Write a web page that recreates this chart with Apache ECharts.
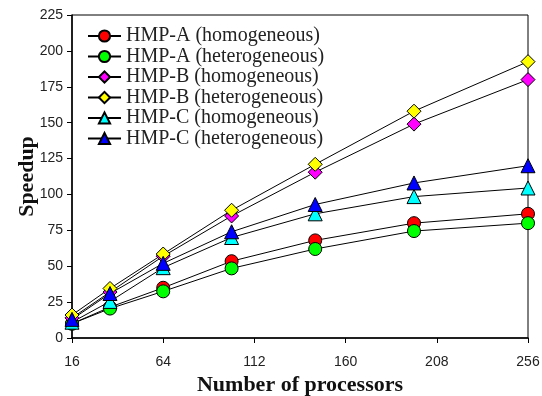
<!DOCTYPE html>
<html><head><meta charset="utf-8">
<script src="https://cdn.jsdelivr.net/npm/echarts@6/dist/echarts.min.js"></script>
<style>html,body{margin:0;padding:0;background:#fff}#c{width:542px;height:396px}</style>
</head><body><div id="c"></div>
<script>
const processors = [16, 36, 64, 100, 144, 196, 256];
const hmpAHom = [10, 21.5, 35, 53.5, 68, 80, 86.5];
const hmpAHet = [10, 20.5, 32.5, 48.5, 62, 74.5, 80];
const hmpBHom = [14, 32, 57, 85, 115.5, 149, 180];
const hmpBHet = [16, 34.5, 58.5, 89, 121, 158, 192.5];
const hmpCHom = [11, 25.5, 49, 70, 86.5, 98.5, 104.5];
const hmpCHet = [13, 31, 52, 74, 93, 108, 120];
const seriesNames = ['HMP-A (homogeneous)','HMP-A (heterogeneous)','HMP-B (homogeneous)','HMP-B (heterogeneous)','HMP-C (homogeneous)','HMP-C (heterogeneous)'];
const seriesData = [hmpAHom, hmpAHet, hmpBHom, hmpBHet, hmpCHom, hmpCHet];
const colors = ['#ff0000','#00ff00','#ff00ff','#ffff00','#00ffff','#0000ff'];
const symbols = ['circle','circle','diamond','diamond','triangle','triangle'];
const sizes = [13,13,14,14,14,14];

const chart = echarts.init(document.getElementById('c'));
chart.setOption({
  animation: false,
  grid: {left: 72, right: 14, top: 15, bottom: 58, show: true, borderColor: '#000', borderWidth: 1, containLabel: false, outerBoundsMode: 'none'},
  legend: {
    orient: 'vertical', left: 82, top: 21, itemWidth: 33, itemHeight: 14, itemGap: 0.5,
    textStyle: {fontFamily: 'Liberation Serif', fontSize: 20, color: '#222', lineHeight: 20},
    data: seriesNames
  },
  xAxis: {
    type: 'value', min: 16, max: 256, interval: 48,
    name: 'Number of processors', nameLocation: 'middle', nameGap: 35,
    nameTextStyle: {fontFamily: 'Liberation Serif', fontWeight: 'bold', fontSize: 22, color: '#111'},
    axisLine: {lineStyle: {color: '#000', width: 1.5}},
    axisTick: {length: 5, lineStyle: {color: '#000'}},
    axisLabel: {fontFamily: 'Liberation Sans', fontSize: 14, color: '#222', margin: 17},
    splitLine: {show: false}
  },
  yAxis: {
    type: 'value', min: 0, max: 225, interval: 25,
    name: 'Speedup', nameLocation: 'middle', nameGap: 34, nameMoveOverlap: false,
    nameTextStyle: {fontFamily: 'Liberation Serif', fontWeight: 'bold', fontSize: 22, color: '#111'},
    axisLine: {show: true, lineStyle: {color: '#000', width: 1.5}},
    axisTick: {show: true, length: 5, lineStyle: {color: '#000'}},
    axisLabel: {fontFamily: 'Liberation Sans', fontSize: 14, color: '#222', margin: 9},
    splitLine: {show: false}
  },
  series: seriesData.map((d, i) => ({
    name: seriesNames[i], type: 'line',
    data: d.map((v, j) => [processors[j], v]),
    symbol: symbols[i], symbolSize: sizes[i],
    lineStyle: {color: '#000', width: 1},
    itemStyle: {color: colors[i], borderColor: '#000', borderWidth: 1},
    emphasis: {disabled: true}
  }))
});
</script></body></html>
